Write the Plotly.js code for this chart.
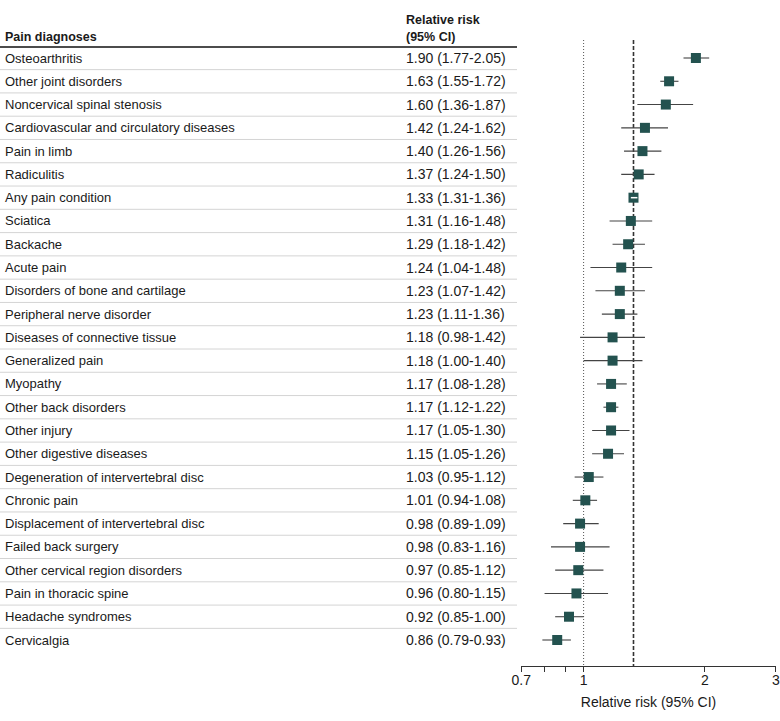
<!DOCTYPE html>
<html>
<head>
<meta charset="utf-8">
<script src="https://cdn.plot.ly/plotly-3.0.1.min.js"></script>
<style>html,body{margin:0;padding:0;background:#fff;}#chart{width:780px;height:721px;}</style>
</head>
<body>
<div id="chart"></div>
<script>
const labels = [
  "Osteoarthritis","Other joint disorders","Noncervical spinal stenosis",
  "Cardiovascular and circulatory diseases","Pain in limb","Radiculitis",
  "Any pain condition","Sciatica","Backache","Acute pain",
  "Disorders of bone and cartilage","Peripheral nerve disorder",
  "Diseases of connective tissue","Generalized pain","Myopathy",
  "Other back disorders","Other injury","Other digestive diseases",
  "Degeneration of intervertebral disc","Chronic pain",
  "Displacement of intervertebral disc","Failed back surgery",
  "Other cervical region disorders","Pain in thoracic spine",
  "Headache syndromes","Cervicalgia"
];
const rr = [1.90,1.63,1.60,1.42,1.40,1.37,1.33,1.31,1.29,1.24,1.23,1.23,1.18,1.18,1.17,1.17,1.17,1.15,1.03,1.01,0.98,0.98,0.97,0.96,0.92,0.86];
const lo = [1.77,1.55,1.36,1.24,1.26,1.24,1.31,1.16,1.18,1.04,1.07,1.11,0.98,1.00,1.08,1.12,1.05,1.05,0.95,0.94,0.89,0.83,0.85,0.80,0.85,0.79];
const hi = [2.05,1.72,1.87,1.62,1.56,1.50,1.36,1.48,1.42,1.48,1.42,1.36,1.42,1.40,1.28,1.22,1.30,1.26,1.12,1.08,1.09,1.16,1.12,1.15,1.00,0.93];
const overallRR = 1.33;
const nullRR = 1;
const xTickVals = [0.7,0.8,0.9,1,2,3];
const xTickText = ["0.7","","","1","2","3"];

const FONT = "Liberation Sans, Arial, sans-serif";
const TXT = "#1a1a1a";
const MARK = "#23524f";
const W = 780, H = 721;
const rowTopPad = 0.773, rowBotPad = 1.117;
const n = labels.length;
const yLo = -rowTopPad, yHi = (n - 1) + rowBotPad;
const idx = labels.map((_, i) => i);

const traces = [];
traces.push({x:[nullRR,nullRR], y:[yLo,yHi], mode:"lines", line:{color:"#555", width:1, dash:"1px,2px"}, hoverinfo:"skip", showlegend:false});
traces.push({x:[overallRR,overallRR], y:[yLo,yHi], mode:"lines", line:{color:"#333", width:1.6, dash:"4px,2px"}, hoverinfo:"skip", showlegend:false});
traces.push({
  x: rr, y: idx, mode: "markers", type: "scatter",
  marker: {symbol: "square", size: 10, color: MARK, line:{width:0}},
  error_x: {type: "data", symmetric: false,
    array: rr.map((v, i) => hi[i] - v),
    arrayminus: rr.map((v, i) => v - lo[i]),
    color: "#444", thickness: 1.1, width: 0},
  showlegend: false, hoverinfo: "x+y"
});
const wx = [], wy = [];
idx.forEach(i => {
  if (Math.log10(hi[i] / lo[i]) < 0.025) { wx.push(lo[i], hi[i], null); wy.push(i, i, null); }
});
traces.push({x: wx, y: wy, mode: "lines", line: {color: "#fff", width: 1.5}, hoverinfo: "skip", showlegend: false});

const annotations = [];
idx.forEach(i => {
  annotations.push({xref:"paper", yref:"y", x:3/W, y:i, xanchor:"left", yanchor:"middle", text:labels[i], showarrow:false, font:{family:FONT, size:13, color:TXT}});
  annotations.push({xref:"paper", yref:"y", x:404/W, y:i, xanchor:"left", yanchor:"middle",
    text: rr[i].toFixed(2) + " (" + lo[i].toFixed(2) + "-" + hi[i].toFixed(2) + ")",
    showarrow:false, font:{family:FONT, size:14, color:TXT}});
});
const plotTop = 40, plotBot = 666;
const py = p => (plotBot - p) / (plotBot - plotTop);
annotations.push({xref:"paper", yref:"paper", x:3/W, y:py(37), xanchor:"left", yanchor:"middle", text:"<b>Pain diagnoses</b>", showarrow:false, font:{family:FONT, size:12.5, color:TXT}});
annotations.push({xref:"paper", yref:"paper", x:404/W, y:py(20), xanchor:"left", yanchor:"middle", text:"<b>Relative risk</b>", showarrow:false, font:{family:FONT, size:12.5, color:TXT}});
annotations.push({xref:"paper", yref:"paper", x:404/W, y:py(37), xanchor:"left", yanchor:"middle", text:"<b>(95% CI)</b>", showarrow:false, font:{family:FONT, size:12.5, color:TXT}});

const shapes = [];
shapes.push({type:"line", xref:"paper", yref:"paper", x0:0, x1:517/W, y0:py(47), y1:py(47), line:{color:"#111", width:1.5}});
for (let i = 0; i < n - 1; i++) {
  shapes.push({type:"line", xref:"paper", yref:"y", x0:0, x1:517/W, y0:i+0.5, y1:i+0.5, line:{color:"#d4d4d4", width:1}});
}

const layout = {
  width: W, height: H,
  margin: {l:0, r:0, t:plotTop, b:H - plotBot, pad:0},
  paper_bgcolor: "#fff", plot_bgcolor: "#fff",
  font: {family: FONT, color: TXT, size: 14},
  showlegend: false,
  xaxis: {
    type: "log", domain: [521/W, 776/W],
    range: [Math.log10(0.7) - 0.0005, Math.log10(3) + 0.0005],
    tickmode: "array", tickvals: xTickVals, ticktext: xTickText,
    ticks: "outside", ticklen: 5, tickwidth: 1, tickcolor: "#333",
    ticklabelstandoff: -4,
    showline: true, linecolor: "#333", linewidth: 1,
    showgrid: false, zeroline: false,
    tickfont: {family: FONT, size: 14, color: TXT},
    title: {text: "Relative risk (95% CI)", font: {family: FONT, size: 14, color: TXT}, standoff: 10}
  },
  yaxis: {
    range: [yHi, yLo], visible: false, showgrid: false, zeroline: false, fixedrange: true
  },
  annotations: annotations,
  shapes: shapes
};

Plotly.newPlot("chart", traces, layout, {displayModeBar: false, staticPlot: true});
</script>
</body>
</html>
